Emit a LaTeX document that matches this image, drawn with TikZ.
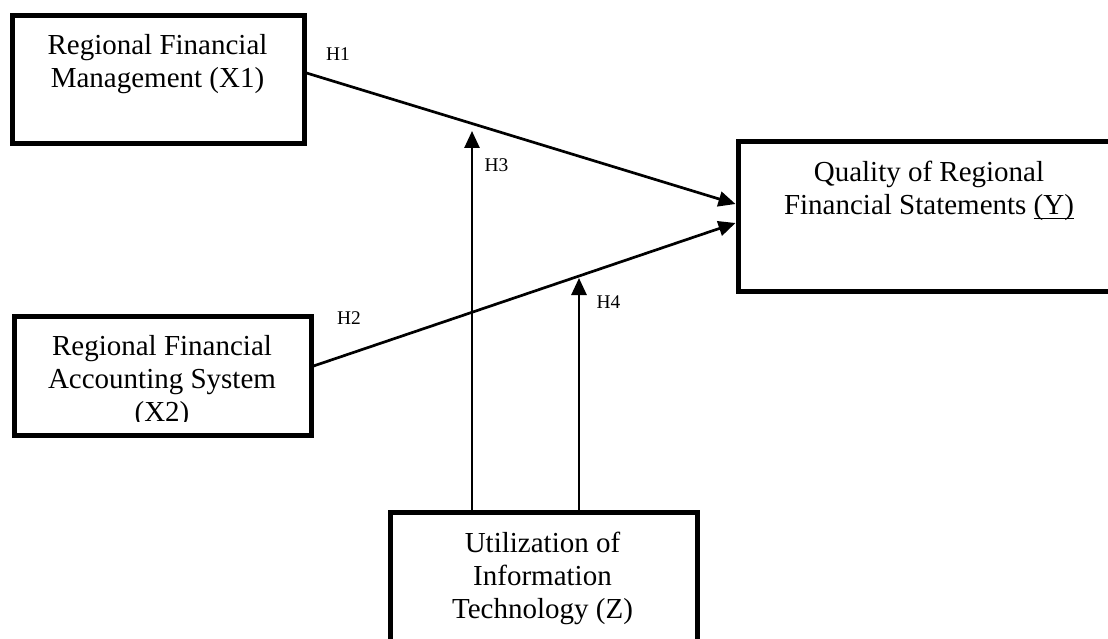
\documentclass[tikz,border=0pt]{standalone}
\usepackage{fontspec}
\setmainfont{Liberation Serif}
\usetikzlibrary{arrows.meta}
\newcommand\myul[1]{\setbox0\hbox{#1}\rlap{\rule[-4.5pt]{\wd0}{1.3pt}}\box0}
\begin{document}
\begin{tikzpicture}[x=1pt,y=-1pt,
  box/.style={draw=black, line width=5pt, inner sep=0pt},
  boxtext/.style={anchor=base, inner sep=0pt, font=\fontsize{29}{33}\selectfont},
  lab/.style={anchor=base, inner sep=0pt, font=\fontsize{19.4}{22}\selectfont},
  conn/.style={draw=black, line width=2.7pt, -{Triangle[length=17pt,width=15pt]}}]
  \useasboundingbox (0,0) rectangle (1108,639);
  \clip (0,0) rectangle (1108,639);
  % boxes
  \node[box, minimum width=292pt, minimum height=128pt] (X1) at (158,80) {};
  \node[box, minimum width=297pt, minimum height=119pt] (X2) at (162.5,375.5) {};
  \node[box, minimum width=384pt, minimum height=149pt] (Y) at (930,216.5) {};
  \node[box, minimum width=307pt, minimum height=148pt] (Z) at (543.5,586.5) {};
  % box texts
  \node[boxtext] (tX1) at (157.5,55) {\begin{tabular}[t]{@{}c@{}}Regional Financial\\Management (X1)\end{tabular}};
  \begin{scope}
    \clip (0,0) rectangle (1108,421.5);
    \node[boxtext] (tX2) at (162,355) {\begin{tabular}[t]{@{}c@{}}Regional Financial\\Accounting System\\(X2)\end{tabular}};
  \end{scope}
  \node[boxtext] (tY) at (929,182) {\begin{tabular}[t]{@{}c@{}}Quality of Regional\\Financial Statements \myul{(Y)}\end{tabular}};
  \node[boxtext] (tZ) at (542.5,552) {\begin{tabular}[t]{@{}c@{}}Utilization of\\Information\\Technology (Z)\end{tabular}};
  % connectors
  \coordinate (h3tip) at (472,131);
  \coordinate (h4tip) at (579,278);
  \draw[conn] ([yshift=7pt]X1.east) -- ([yshift=12.5pt]Y.west);
  \draw[conn] ([yshift=9.5pt]X2.east) -- ([yshift=-6.5pt]Y.west);
  \draw[conn] ([xshift=-71.5pt]Z.north) -- (h3tip);
  \draw[conn] ([xshift=35.5pt]Z.north) -- (h4tip);
  % labels
  \node[lab] (h1) at (338,61) {H1};
  \node[lab] (h2) at (349,324) {H2};
  \node[lab] (h3) at (496.5,172) {H3};
  \node[lab] (h4) at (608.5,308) {H4};
\end{tikzpicture}
\end{document}
